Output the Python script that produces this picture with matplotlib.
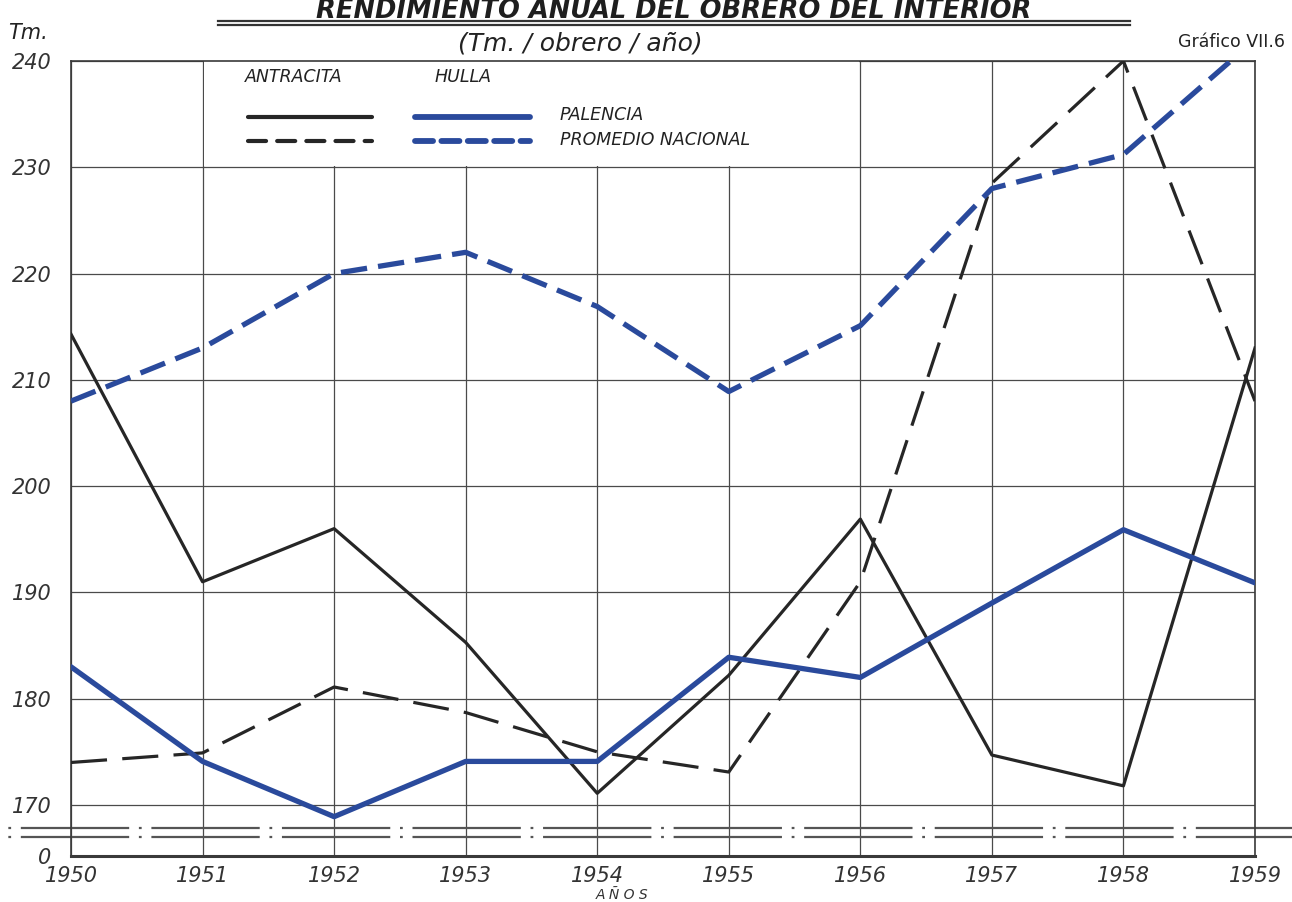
#%% Rendimiento anual del obrero del interior - Grafico VII.6
import matplotlib.pyplot as plt
import matplotlib.transforms as mtransforms
from matplotlib.lines import Line2D
from matplotlib.patches import Rectangle

plt.rcParams['lines.scale_dashes'] = False
plt.rcParams['font.family'] = ['DejaVu Sans']

#%% Data (Tm. / obrero / año)
years = [1950, 1951, 1952, 1953, 1954, 1955, 1956, 1957, 1958, 1959]
antracita_palencia = [214.3, 191.0, 196.0, 185.3, 171.1, 182.2, 196.9, 174.7, 171.8, 213.0]
antracita_nacional = [174.0, 174.9, 181.1, 178.7, 175.0, 173.1, 191.0, 228.5, 240.0, 208.0]
hulla_palencia = [183.0, 174.1, 168.9, 174.1, 174.1, 183.9, 182.0, 189.0, 195.9, 190.9]
hulla_nacional = [208.0, 213.0, 220.0, 222.0, 216.9, 208.9, 215.1, 228.0, 231.2, 242.0]
y_ticks = [170, 180, 190, 200, 210, 220, 230, 240]
y_labels = ['170', '180', '190', '200', '210', '220', '230', '240']

#%% Layout
W, H = 1292, 902
zero_pos = 165.2      # where the broken axis puts 0
black = '#262626'
blue = '#2a4a9c'
grid_c = '#4a4a4a'


def fx(px):
    return px / W


def fy(py):
    return 1 - py / H


fig = plt.figure(figsize=(W / 100, H / 100), dpi=100)
fig.patch.set_facecolor('white')
ax = fig.add_axes([fx(71), fy(856), fx(1255) - fx(71), fy(61) - fy(856)])
ax.set_xlim(1950, 1959)
ax.set_ylim(zero_pos, 240)

ax.set_xticks(years)
ax.set_xticklabels([str(y) for y in years], fontsize=15, style='italic', color='#333333')
ax.set_yticks([zero_pos] + y_ticks)
ax.set_yticklabels(['0'] + y_labels, fontsize=15, style='italic', color='#333333')
ax.tick_params(length=0, pad=7)
ax.tick_params(axis='y', pad=14)
ax.set_axisbelow(True)
ax.grid(True, color=grid_c, lw=0.9)
for s in ax.spines.values():
    s.set_color('#3a3a3a')
    s.set_linewidth(1.2)
ax.spines['bottom'].set_linewidth(2.2)

# blank area for the key
ax.add_patch(Rectangle((1951.01, 230.1), 4.98, 9.9, facecolor='white',
                       edgecolor='none', zorder=1))

#%% Series
ax.plot(years, antracita_palencia, color=black, lw=2.3, zorder=3)
ax.plot(years, antracita_nacional, color=black, lw=2.3, linestyle=(0, (26, 11)), zorder=3)
ax.plot(years, hulla_palencia, color=blue, lw=3.8, zorder=4, solid_capstyle='round')
ax.plot(years, hulla_nacional, color=blue, lw=3.8, linestyle=(0, (19, 8)), zorder=4)

# axis break marks
trans = mtransforms.blended_transform_factory(fig.transFigure, ax.transData)
for v in (167.84, 166.99):
    ax.plot([0, 1], [v, v], transform=trans, clip_on=False, color='#555555',
            lw=1.6, linestyle=(79, (78, 7, 2, 7)), zorder=2)

#%% Key
key_lines = [
    (248, 372, 117, black, 3.0, '-'),
    (415, 530, 117, blue, 4.2, '-'),
    (248, 372, 141, black, 3.0, (0, (13, 8))),
    (415, 530, 141, blue, 4.2, (0, (13, 6))),
]
for x0, x1, yy, c, lw, ls in key_lines:
    fig.add_artist(Line2D([fx(x0), fx(x1)], [fy(yy), fy(yy)], color=c, lw=lw,
                          linestyle=ls, solid_capstyle='round', dash_capstyle='round'))
key_font = dict(fontsize=12.5, style='italic', color='#222222', va='center', ha='left')
fig.text(fx(245), fy(77), 'ANTRACITA', **key_font)
fig.text(fx(435), fy(77), 'HULLA', **key_font)
fig.text(fx(560), fy(115), 'PALENCIA', **key_font)
fig.text(fx(560), fy(140), 'PROMEDIO NACIONAL', **key_font)

#%% Titles
fig.text(fx(674), fy(18), 'RENDIMIENTO ANUAL DEL OBRERO DEL INTERIOR', fontsize=18.5,
         weight='bold', style='italic', color='#1e1e1e', ha='center', va='baseline')
for yy in (21, 25):
    fig.add_artist(Line2D([fx(218), fx(1130)], [fy(yy), fy(yy)], color='#333333', lw=1.6))
fig.text(fx(580), fy(44), '(Tm. / obrero / año)', fontsize=18, style='italic',
         color='#222222', ha='center', va='center')
fig.text(fx(1285), fy(42), 'Gráfico VII.6', fontsize=12.5, color='#222222',
         ha='right', va='center')
fig.text(fx(8), fy(33), 'Tm.', fontsize=15, style='italic', color='#222222',
         ha='left', va='center')
fig.text(fx(622), fy(895), 'A Ñ O S', fontsize=10, style='italic', color='#333333',
         ha='center', va='center')

fig.savefig('out.png', dpi=100, facecolor='white')
